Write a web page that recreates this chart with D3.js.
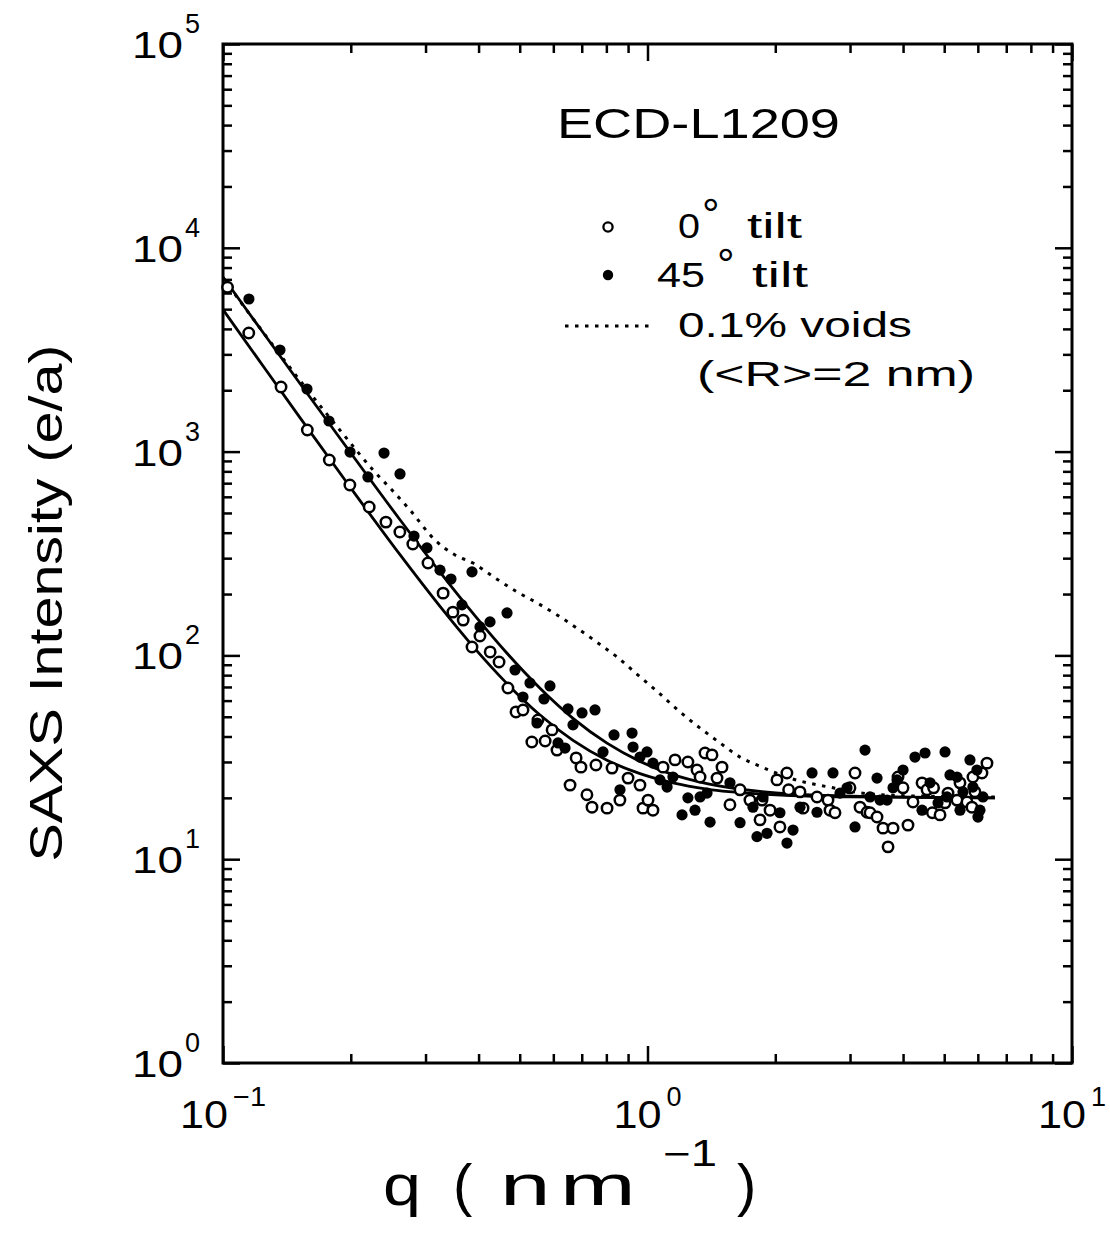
<!DOCTYPE html>
<html><head><meta charset="utf-8">
<script src="https://cdn.jsdelivr.net/npm/d3@7"></script>
<style>
body{margin:0;background:#fff}
svg{display:block}
text{font-family:"Liberation Sans",Arial,Helvetica,sans-serif;fill:#000}
</style>
</head><body>
<svg id="chart" width="1110" height="1236"></svg>
<script>
// ---------------- data (q in nm^-1, intensity in e/a) ----------------
const tilt0 = [[0.1025,6400],[0.115,3820],[0.137,2075],[0.158,1276],[0.178,910],[0.199,686],[0.221,535],[0.242,451],[0.261,403],[0.280,352],[0.304,284],[0.330,202],[0.348,163],[0.368,149],[0.386,110],[0.403,124.5],[0.426,104],[0.447,92.8],[0.469,69.2],[0.490,52.8],[0.509,54.0],[0.534,37.6],[0.552,48.2],[0.574,38.0],[0.596,43.1],[0.612,34.3],[0.657,23.1],[0.679,31.4],[0.697,28.3],[0.720,20.7],[0.740,18.0],[0.756,29.0],[0.803,17.8],[0.825,28.0],[0.861,19.5],[0.900,25.0],[0.960,23.1],[0.976,17.8],[1.003,19.5],[1.030,17.4],[1.088,28.3],[1.161,30.7],[1.245,30.0],[1.308,27.4],[1.330,25.3],[1.366,33.2],[1.419,32.5],[1.458,25.0],[1.498,28.3],[1.564,18.5],[1.652,21.9],[1.743,19.5],[1.841,15.6],[1.861,19.5],[1.944,17.4],[2.018,24.5],[2.051,14.4],[2.13,26.5],[2.15,21.9],[2.287,21.4],[2.325,17.8],[2.508,20.2],[2.662,19.5],[2.691,17.4],[2.765,16.9],[2.999,22.4],[3.082,26.5],[3.167,18.0],[3.29,17.0],[3.344,16.9],[3.473,16.1],[3.588,14.2],[3.687,11.5],[3.788,14.2],[3.892,25.3],[3.999,22.4],[4.108,14.7],[4.221,19.1],[4.433,23.7],[4.555,21.9],[4.69,16.9],[4.72,22.4],[4.888,16.5],[5.022,18.9],[5.104,21.1],[5.359,19.5],[5.447,23.7],[5.658,19.1],[5.812,18.0],[5.843,25.3],[5.907,21.4],[6.137,26.5],[6.305,29.6]];

const tilt45 = [[0.1151,5609],[0.1362,3151],[0.1577,2029],[0.1777,1413],[0.1992,995],[0.2195,751],[0.2395,984],[0.2612,777],[0.2818,385],[0.3023,337],[0.3245,262],[0.3444,237],[0.3656,177],[0.386,257],[0.4031,138],[0.4256,146],[0.4667,161.5],[0.4874,84.8],[0.5089,62.5],[0.5286,73.2],[0.5491,46.6],[0.5704,61.1],[0.5892,70.8],[0.6155,37.2],[0.6393,35.1],[0.6497,54.6],[0.6676,45.6],[0.701,52.2],[0.7522,54.0],[0.7856,33.6],[0.8339,40.7],[0.8614,21.9],[0.9195,41.6],[0.9246,35.5],[0.9601,31.7],[0.9973,33.6],[1.030,29.6],[1.07,24.5],[1.112,22.6],[1.148,25.3],[1.206,16.5],[1.245,20.0],[1.294,17.4],[1.33,20.2],[1.381,21.1],[1.404,15.2],[1.564,23.7],[1.652,15.1],[1.772,18.0],[1.811,12.9],[1.871,20.2],[1.912,13.4],[2.051,16.9],[2.131,12.0],[2.202,13.9],[2.287,18.0],[2.441,26.5],[2.508,17.0],[2.735,26.5],[2.841,21.1],[2.951,22.4],[3.082,14.4],[3.254,34.3],[3.344,20.2],[3.473,25.0],[3.53,19.5],[3.667,19.5],[3.788,22.4],[3.871,24.5],[3.999,27.4],[4.267,31.7],[4.433,17.4],[4.506,33.2],[4.63,23.7],[4.835,18.9],[5.022,33.6],[5.076,20.2],[5.159,25.9],[5.359,25.3],[5.447,17.4],[5.536,21.4],[5.749,30.7],[5.843,22.6],[5.971,27.4],[6.004,16.1],[6.07,17.4],[6.17,20.2]];

const fit0 = [[0.1,4975],[0.1222,2763],[0.1518,1467],[0.1992,670],[0.2612,312],[0.3245,174],[0.3881,110.7],[0.4667,72.7],[0.5582,51.0],[0.6676,38.3],[0.8028,30.6],[0.9601,26.3],[1.148,23.7],[1.381,22.1],[1.841,20.9],[2.999,20.2],[6.585,20.0]];

const fit45 = [[0.1,7190],[0.1222,4028],[0.1518,2158],[0.1992,995],[0.2612,463],[0.3245,256],[0.3881,160.6],[0.4667,102.4],[0.5582,69.0],[0.6676,49.1],[0.8028,37.1],[0.9601,30.2],[1.148,26.0],[1.381,23.5],[1.841,21.5],[2.999,20.4],[6.585,20.0]];

const voids = [[0.1,7110],[0.1222,4042],[0.1502,2298],[0.1787,1462],[0.197,1140],[0.2256,812],[0.25,648],[0.2757,517],[0.3158,368],[0.352,311],[0.3881,284],[0.4373,240],[0.4927,205],[0.5491,181],[0.6121,158],[0.6822,136],[0.7603,116],[0.8475,98.2],[0.9497,80.1],[1.058,66.1],[1.193,52.8],[1.33,44.0],[1.482,37.2],[1.652,31.7],[1.861,28.3],[2.166,25.0],[2.735,22.4],[3.344,20.9],[4.385,20.4],[6.585,20.2]];

const xMajor = [0.1, 1, 10];
const xExp = ["\u22121", "0", "1"];
const xMinor = [0.2,0.3,0.4,0.5,0.6,0.7,0.8,0.9,2,3,4,5,6,7,8,9];
const yMajor = [1, 10, 100, 1000, 10000, 100000];
const yExp = ["0","1","2","3","4","5"];
const yMinor = [];
[1,10,100,1000,10000].forEach(d => [2,3,4,5,6,7,8,9].forEach(m => yMinor.push(d*m)));

const title = "ECD-L1209";
const legendLabels = ["0", "tilt", "45", "tilt", "0.1% voids", "(<R>=2 nm)"];
const yTitle = "SAXS Intensity (e/a)";

// ---------------- layout ----------------
const L = 223, T = 44, W = 849, H = 1019;
const svg = d3.select("#chart");
const x = d3.scaleLog().domain([0.1, 10]).range([0, W]);
const y = d3.scaleLog().domain([1, 1e5]).range([H, 0]);
const g = svg.append("g").attr("transform", `translate(${L},${T})`);

const MAJ = 17, MIN = 9;
function addAxis(fn, scale, vals, size, tr) {
  const a = g.append("g").attr("transform", tr)
    .call(fn(scale).tickValues(vals).tickSizeInner(-size).tickSizeOuter(0).tickFormat(""));
  a.select(".domain").remove();
  a.selectAll("line").attr("stroke", "#000").attr("stroke-width", 2.5);
}
addAxis(d3.axisBottom, x, xMajor, MAJ, `translate(0,${H})`);
addAxis(d3.axisBottom, x, xMinor, MIN, `translate(0,${H})`);
addAxis(d3.axisTop, x, xMajor, MAJ, `translate(0,0)`);
addAxis(d3.axisTop, x, xMinor, MIN, `translate(0,0)`);
addAxis(d3.axisLeft, y, yMajor, MAJ, `translate(0,0)`);
addAxis(d3.axisLeft, y, yMinor, MIN, `translate(0,0)`);
addAxis(d3.axisRight, y, yMajor, MAJ, `translate(${W},0)`);
addAxis(d3.axisRight, y, yMinor, MIN, `translate(${W},0)`);

g.append("rect").attr("x", 0).attr("y", 0).attr("width", W).attr("height", H)
  .attr("fill", "none").attr("stroke", "#000").attr("stroke-width", 3);

function stretched(parent, txt, px, py, size, len) {
  return parent.append("text").attr("x", px).attr("y", py).attr("font-size", size)
    .attr("textLength", len).attr("lengthAdjust", "spacingAndGlyphs").text(txt);
}

// x tick labels: "10" plus raised exponent, the pair centred on the tick
xMajor.forEach((v, i) => {
  const lg = g.append("g");
  stretched(lg, "10", 0, H + 65, 38, 48);
  const e = lg.append("text").attr("x", 53).attr("y", H + 43).attr("font-size", 27).text(xExp[i]);
  if (xExp[i].length > 1) e.attr("textLength", 33).attr("lengthAdjust", "spacingAndGlyphs");
  const bb = lg.node().getBBox();
  lg.attr("transform", `translate(${x(v) - bb.x - bb.width / 2},0)`);
});
// y tick labels
yMajor.forEach((v, i) => {
  stretched(g, "10", -91, y(v) + 14, 37, 51);
  g.append("text").attr("x", -38).attr("y", y(v) - 11).attr("font-size", 27).text(yExp[i]);
});

// ---------------- curves ----------------
const line = d3.line().x(d => x(d[0])).y(d => y(d[1])).curve(d3.curveMonotoneX);
g.append("path").datum(voids).attr("d", line).attr("fill", "none")
  .attr("stroke", "#000").attr("stroke-width", 3).attr("stroke-dasharray", "3.5,6.5");
g.append("path").datum(fit0).attr("d", line).attr("fill", "none")
  .attr("stroke", "#000").attr("stroke-width", 2.8);
g.append("path").datum(fit45).attr("d", line).attr("fill", "none")
  .attr("stroke", "#000").attr("stroke-width", 2.8);

// ---------------- points ----------------
g.append("g").selectAll("circle").data(tilt0).join("circle")
  .attr("cx", d => x(d[0])).attr("cy", d => y(d[1])).attr("r", 5.2)
  .attr("fill", "#fff").attr("stroke", "#000").attr("stroke-width", 2.5);
g.append("g").selectAll("circle").data(tilt45).join("circle")
  .attr("cx", d => x(d[0])).attr("cy", d => y(d[1])).attr("r", 5.6)
  .attr("fill", "#000");

// ---------------- title & legend ----------------
stretched(svg, title, 557, 138, 43, 283);

svg.append("circle").attr("cx", 608).attr("cy", 227).attr("r", 4.6)
  .attr("fill", "#fff").attr("stroke", "#000").attr("stroke-width", 2.3);
stretched(svg, legendLabels[0], 678, 238, 35, 22);
svg.append("text").attr("x", 702).attr("y", 230).attr("font-size", 44).text("\u00B0");
stretched(svg, legendLabels[1], 747, 238, 35, 55);

svg.append("circle").attr("cx", 608).attr("cy", 275).attr("r", 5.2).attr("fill", "#000");
stretched(svg, legendLabels[2], 657, 287, 35, 48);
svg.append("text").attr("x", 717).attr("y", 280).attr("font-size", 44).text("\u00B0");
stretched(svg, legendLabels[3], 752, 287, 35, 56);

svg.append("line").attr("x1", 565).attr("x2", 653).attr("y1", 326).attr("y2", 326)
  .attr("stroke", "#000").attr("stroke-width", 3).attr("stroke-dasharray", "3.5,6.5");
stretched(svg, legendLabels[4], 678, 337, 35, 234);
stretched(svg, legendLabels[5], 697, 386, 35, 278);

// ---------------- axis titles ----------------
stretched(svg, "q", 383, 1205, 58, 38);
svg.append("text").attr("x", 453).attr("y", 1205).attr("font-size", 58).text("(");
svg.append("text").attr("x", 500).attr("y", 1205).attr("font-size", 58)
  .attr("letter-spacing", 6).attr("textLength", 145).attr("lengthAdjust", "spacingAndGlyphs").text("nm");
stretched(svg, "\u22121", 663, 1166, 36, 54);
svg.append("text").attr("x", 737).attr("y", 1205).attr("font-size", 58).text(")");

svg.append("text").attr("transform", "translate(62,603) rotate(-90)")
  .attr("text-anchor", "middle").attr("font-size", 46)
  .attr("textLength", 517).attr("lengthAdjust", "spacingAndGlyphs").text(yTitle);
</script>
</body></html>
